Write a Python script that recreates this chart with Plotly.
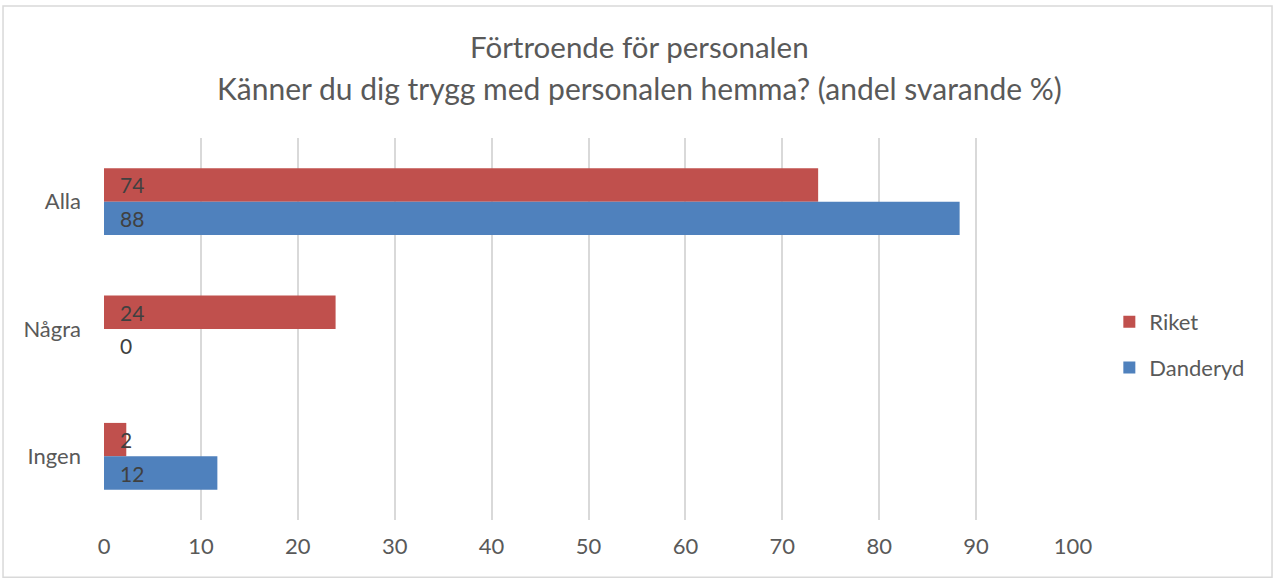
import plotly.graph_objects as go

categories = ["Alla", "Några", "Ingen"]
riket = [73.7, 23.9, 2.3]
danderyd = [88.3, 0, 11.7]
series_names = ["Riket", "Danderyd"]
series_colors = ["#C0504D", "#4F81BD"]
x_ticks = [0, 10, 20, 30, 40, 50, 60, 70, 80, 90, 100]
title_lines = ["Förtroende för personalen",
               "Känner du dig trygg med personalen hemma? (andel svarande %)"]

FONT = "Lato"
PAD = "\u2002\u2009"

fig = go.Figure()
for name, vals, col in zip(series_names, [riket, danderyd], series_colors):
    fig.add_trace(go.Bar(
        y=categories, x=vals, name=name, orientation="h",
        marker=dict(color=col, line=dict(width=0)),
        text=[PAD + f"{v:.0f}" for v in vals],
        textposition=["inside" if v > 0 else "outside" for v in vals],
        insidetextanchor="start",
        textangle=0,
        constraintext="none",
        cliponaxis=False,
        insidetextfont=dict(family=FONT, size=21, color="#404040"),
        outsidetextfont=dict(family=FONT, size=21, color="#404040"),
        legendgroup=name,
    ))

fig.update_layout(
    width=1274, height=578,
    margin=dict(l=104, r=201, t=138, b=58),
    paper_bgcolor="white", plot_bgcolor="white",
    barmode="group", bargap=0.475, bargroupgap=0,
    font=dict(family=FONT, color="#595959"),
    showlegend=True,
    legend=dict(x=1.0375, y=0.458, xanchor="left", yanchor="middle",
                traceorder="grouped", tracegroupgap=14,
                font=dict(family=FONT, size=22, color="#595959")),
    xaxis=dict(range=[0, 100], tickvals=x_ticks, showgrid=True,
               gridcolor="#D9D9D9", gridwidth=2, zeroline=False,
               showline=False, ticks="", ticklabelstandoff=11,
               tickfont=dict(family=FONT, size=22, color="#595959")),
    yaxis=dict(categoryorder="array", categoryarray=categories,
               autorange="reversed", showgrid=False, zeroline=False,
               showline=False, ticks="", ticklabelstandoff=22,
               tickfont=dict(family=FONT, size=22, color="#595959")),
    shapes=[dict(type="rect", xref="paper", yref="paper",
                 x0=-0.1042, x1=1.2054, y0=-0.15, y1=1.3455,
                 line=dict(color="#D9D9D9", width=1.5), fillcolor="rgba(0,0,0,0)",
                 layer="below")],
)

fig.add_annotation(text=title_lines[0], xref="paper", yref="paper",
                   x=0.553, y=(520 - 47) / 382, showarrow=False,
                   xanchor="center", yanchor="middle",
                   font=dict(family=FONT, size=29.5, color="#595959"))
fig.add_annotation(text=title_lines[1], xref="paper", yref="paper",
                   x=0.553, y=(520 - 88) / 382, showarrow=False,
                   xanchor="center", yanchor="middle",
                   font=dict(family=FONT, size=30, color="#595959"))

fig.write_html("out.html", config={"displayModeBar": False},
               post_script="document.body.style.margin='0';")
